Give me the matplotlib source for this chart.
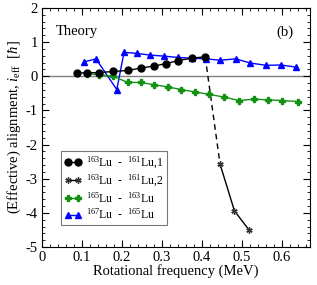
import matplotlib
matplotlib.use("Agg")
import matplotlib.pyplot as plt
from matplotlib.ticker import MultipleLocator

plt.rcParams['font.family'] = ['Liberation Serif', 'DejaVu Serif']
plt.rcParams['mathtext.fontset'] = 'custom'
plt.rcParams['mathtext.rm'] = 'Liberation Serif'
plt.rcParams['mathtext.it'] = 'Liberation Serif:italic'

# data
x_a = [0.088, 0.113, 0.143, 0.178, 0.214, 0.247, 0.280, 0.310, 0.340, 0.374, 0.408]
y_a = [0.10, 0.10, 0.11, 0.14, 0.17, 0.24, 0.30, 0.37, 0.46, 0.53, 0.57]

x_b = [0.445, 0.481, 0.518]
y_b = [-2.57, -3.94, -4.51]

x_c = [0.113, 0.143, 0.178, 0.214, 0.247, 0.280, 0.314, 0.348, 0.383, 0.418,
       0.455, 0.493, 0.530, 0.566, 0.600, 0.640]
y_c = [0.07, 0.05, 0.00, -0.18, -0.18, -0.25, -0.31, -0.39, -0.46, -0.53,
       -0.61, -0.71, -0.67, -0.69, -0.71, -0.74]

x_d = [0.105, 0.135, 0.187, 0.205, 0.238, 0.270, 0.305, 0.340, 0.374, 0.410,
       0.446, 0.484, 0.520, 0.560, 0.597, 0.634]
y_d = [0.42, 0.51, -0.39, 0.70, 0.67, 0.62, 0.59, 0.55, 0.53, 0.51,
       0.47, 0.51, 0.39, 0.32, 0.33, 0.27]

labels = [r'$^{163}$Lu  -  $^{161}$Lu,1', r'$^{163}$Lu  -  $^{161}$Lu,2',
          r'$^{165}$Lu  -  $^{163}$Lu', r'$^{167}$Lu  -  $^{165}$Lu']

fig = plt.figure(figsize=(3.17, 2.85), dpi=100)
ax = fig.add_axes([0.1325, 0.1333, 0.8455, 0.8387])

ax.axhline(0, color='#808080', lw=1.0, zorder=1)

ax.plot(x_d, y_d, color='blue', lw=1.0, marker='^', ms=4.5, mec='blue', mfc='blue', label=labels[3], zorder=3)
ax.plot(x_c, y_c, color='#139113', lw=1.0, marker='P', ms=4.5, mec='#139113', mfc='#139113', label=labels[2], zorder=3)
ax.plot([x_a[-1], x_b[0]], [y_a[-1], y_b[0]], color='black', lw=1.0, ls=(0, (4, 3)), zorder=2)
ax.plot(x_b, y_b, color='black', lw=1.0, marker=(6, 2, 0), ms=4.5, mec='#333333', label=labels[1], zorder=3)
ax.plot(x_a, y_a, color='black', lw=1.0, marker='o', ms=5, label=labels[0], zorder=4)

ax.set_xlim(0, 0.67)
ax.set_ylim(-5, 2)
ax.xaxis.set_minor_locator(MultipleLocator(0.02))
ax.yaxis.set_minor_locator(MultipleLocator(0.2))
ax.set_xticks([0, 0.1, 0.2, 0.3, 0.4, 0.5, 0.6])
ax.set_xticklabels(['0', '0.1', '0.2', '0.3', '0.4', '0.5', '0.6'])
ax.set_yticks([-5, -4, -3, -2, -1, 0, 1, 2])
ax.set_yticklabels(['-5', '-4', '-3', '-2', '-1', '0', '1', '2'])
ax.tick_params(which='both', direction='in', top=True, right=True, labelsize=10.5, pad=3)
ax.tick_params(which='major', length=5, width=0.8)
ax.tick_params(which='minor', length=2.5, width=0.6)

ax.set_xlabel('Rotational frequency (MeV)', fontsize=10.5, labelpad=0)
ax.set_ylabel(r'(Effective) alignment, $i_{\rm eff}$  [$\hbar$]', fontsize=10.5, labelpad=2)

ax.text(0.05, 0.885, 'Theory', transform=ax.transAxes, fontsize=10.5)
ax.text(0.875, 0.885, '(b)', transform=ax.transAxes, fontsize=10.5)

handles, labs = ax.get_legend_handles_labels()
order = [3, 2, 1, 0]
leg = ax.legend([handles[i] for i in order], [labs[i] for i in order],
                loc='upper left', bbox_to_anchor=(0.07, 0.40), fontsize=8.5,
                frameon=True, fancybox=False, edgecolor='#555555',
                numpoints=2, handlelength=1.5, handletextpad=0.3, labelspacing=0.15,
                borderpad=0.3, borderaxespad=0)
leg.get_frame().set_linewidth(0.8)

fig.savefig('out.png', dpi=100)
